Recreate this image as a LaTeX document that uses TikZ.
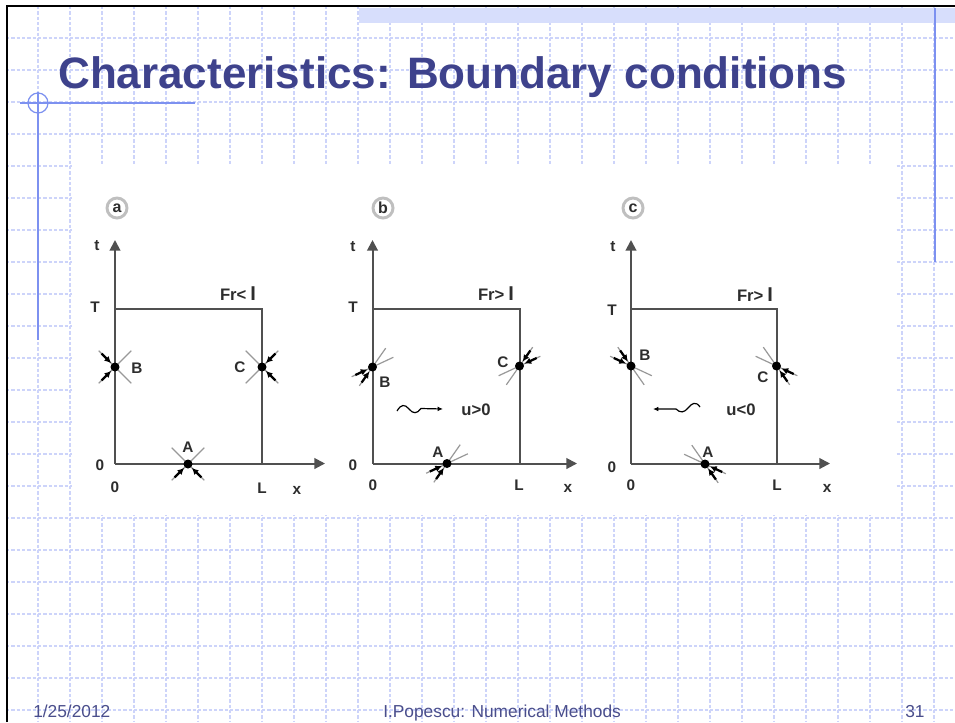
\documentclass[tikz,border=0pt]{standalone}
\usepackage{fontspec}
\setmainfont{Liberation Sans}
\usetikzlibrary{calc,arrows.meta}
\definecolor{gridc}{RGB}{205,212,250}
\definecolor{bluel}{RGB}{125,145,240}
\definecolor{titlec}{RGB}{62,66,140}
\definecolor{footc}{RGB}{74,78,140}
\definecolor{axc}{RGB}{80,80,80}
\definecolor{bandc}{RGB}{215,222,252}
\definecolor{txc}{RGB}{45,45,45}
\tikzset{
 gridln/.style={gridc, line width=0.9pt, dash pattern=on 2.5pt off 1.5pt},
 blueln/.style={bluel, line width=0.9pt},
 axis/.style={axc, line width=1.5pt},
 axarrow/.style={axis, -{Triangle[length=8pt,width=8pt]}},
 charln/.style={gray!80, line width=0.9pt},
 charar/.style={black, line width=1.7pt, -{Latex[length=5pt,width=5pt]}},
 wig/.style={black, line width=0.9pt, -{Latex[length=4pt,width=3.5pt]}},
 lbl/.style={text=txc, font=\fontsize{11.5pt}{13pt}\selectfont\bfseries, inner sep=0pt},
 frl/.style={text=txc, font=\fontsize{12.5pt}{14pt}\selectfont\bfseries, inner sep=0pt},
 circl/.style={circle, draw=gray!50, line width=2.2pt, fill=white, minimum size=15pt, inner sep=0pt, text=txc, font=\fontsize{12pt}{12pt}\selectfont\bfseries},
 titlef/.style={text=titlec, font=\fontsize{33pt}{36pt}\selectfont\bfseries, inner sep=0pt, anchor=base west},
 footf/.style={text=footc, font=\fontsize{13pt}{15pt}\selectfont, inner sep=0pt, anchor=base west}
}
\newcommand\charmark[4]{%
  \draw[charln] ($(#1)+(-#2:23)$) -- ($(#1)+(180-#2:23)$);
  \draw[charln] ($(#1)+(-#3:23)$) -- ($(#1)+(180-#3:23)$);
  \foreach \aa in {#4}{\draw[charar] ($(#1)+(-\aa:19)$) -- ($(#1)+(-\aa:5.5)$);}
  \fill[black] (#1) circle (4.5);
}
\newcommand\barI{\hspace{3pt}{\fontsize{15pt}{15pt}\selectfont I}}
\begin{document}
\begin{tikzpicture}[x={(0.75pt,0)}, y={(0,-0.75pt)}]
\useasboundingbox (0,0) rectangle (955,722);
\fill[white] (0,0) rectangle (955,722);
% grid
\foreach \i in {0,...,28} \draw[gridln] (38+32*\i,6) -- (38+32*\i,722);
\foreach \j in {0,...,21} \draw[gridln] (6,38+32*\j) -- (955,38+32*\j);
% picture area
\fill[white] (72,165) rectangle (895,515);
% top band
\fill[bandc] (359,8) rectangle (955,23);
% border
\draw[black, line width=2pt] (7,722) -- (7,6) -- (955,6);
% blue decorations
\draw[blueln] (935,8) -- (935,262);
\draw[blueln] (38,92) -- (38,340);
\draw[blueln] (20,103) -- (195,103);
\draw[blueln] (38,103) circle (10);
% title
\node[titlef] (title) at (58,88) {Characteristics: Boundary conditions};
% footer
\node[footf] (date) at (33,717) {1/25/2012};
\node[footf] (auth) at (383,717) {I.Popescu: Numerical Methods};
\node[footf] (page) at (905,717) {31};

% ===== panel a =====
\coordinate (aO) at (115,463.5);
\coordinate (aTt) at (115,240);
\coordinate (aXt) at (325,463.5);
\coordinate (aTL) at (115,308.5);
\coordinate (aTR) at (262,308.5);
\coordinate (aL) at (262,463.5);
\draw[axarrow] (aO) -- (aTt);
\draw[axarrow] (aO) -- (aXt);
\draw[axis] (aTL) -- (aTR) -- (aL);
\node[circl] (ca) at (117,208) {a};
\node[lbl] (at) at (97,246) {t};
\node[lbl] (aT) at (95,307) {T};
\node[lbl] (a0l) at (100,465) {0};
\node[lbl] (a0b) at (115,487) {0};
\node[lbl] (aLl) at (262,488) {L};
\node[lbl] (axl) at (297,490) {x};
\node[frl] (afr) at (238,294) {Fr<\barI};
\coordinate (aB) at (115,367);
\coordinate (aC) at (262,367);
\coordinate (aA) at (188,464);
\charmark{aB}{45}{135}{135,225}
\charmark{aC}{45}{135}{45,315}
\charmark{aA}{45}{135}{225,315}
\node[lbl] (aBl) at (137,368) {B};
\node[lbl] (aCl) at (240,367) {C};
\node[lbl] (aAl) at (188,447) {A};

% ===== panel b =====
\coordinate (bO) at (372.5,463.5);
\coordinate (bTt) at (372.5,240);
\coordinate (bXt) at (577,463.5);
\coordinate (bTL) at (372.5,308.5);
\coordinate (bTR) at (519.5,308.5);
\coordinate (bL) at (519.5,463.5);
\draw[axarrow] (bO) -- (bTt);
\draw[axarrow] (bO) -- (bXt);
\draw[axis] (bTL) -- (bTR) -- (bL);
\node[circl] (cb) at (383,208) {b};
\node[lbl] (bt) at (353,247) {t};
\node[lbl] (bT) at (353,307) {T};
\node[lbl] (b0l) at (353,465) {0};
\node[lbl] (b0b) at (373,485) {0};
\node[lbl] (bLl) at (519,485) {L};
\node[lbl] (bxl) at (568,488) {x};
\node[frl] (bfr) at (496,294) {Fr>\barI};
\coordinate (bB) at (372.5,367);
\coordinate (bC) at (519.5,366);
\coordinate (bA) at (447,463.5);
\charmark{bB}{25}{55}{205,235}
\charmark{bC}{25}{55}{25,55}
\charmark{bA}{25}{55}{205,235}
\node[lbl] (bBl) at (385,382) {B};
\node[lbl] (bCl) at (503,362) {C};
\node[lbl] (bAl) at (438,452) {A};
\coordinate (bw1) at (397,411);
\coordinate (bw2) at (443,409);
\draw[wig] (bw1) .. controls (401,404) and (405,404) .. (409,409) .. controls (413,414) and (417,414) .. (421,408.5) -- (bw2);
\node[frl] (bu) at (476,410) {u>0};

% ===== panel c =====
\coordinate (cO) at (631,463.5);
\coordinate (cTt) at (631,240);
\coordinate (cXt) at (830,463.5);
\coordinate (cTL) at (631,308.5);
\coordinate (cTR) at (776.5,308.5);
\coordinate (cL) at (776.5,463.5);
\draw[axarrow] (cO) -- (cTt);
\draw[axarrow] (cO) -- (cXt);
\draw[axis] (cTL) -- (cTR) -- (cL);
\node[circl] (cc) at (633,208) {c};
\node[lbl] (ct) at (613,247) {t};
\node[lbl] (cT) at (612,310) {T};
\node[lbl] (c0l) at (612,467) {0};
\node[lbl] (c0b) at (631,485) {0};
\node[lbl] (cLl) at (777,485) {L};
\node[lbl] (cxl) at (827,488) {x};
\node[frl] (cfr) at (755,295) {Fr>\barI};
\coordinate (cB) at (631,366);
\coordinate (cC) at (776.5,366);
\coordinate (cA) at (705,464);
\charmark{cB}{125}{155}{125,155}
\charmark{cC}{125}{155}{305,335}
\charmark{cA}{125}{155}{305,335}
\node[lbl] (cBl) at (645,355) {B};
\node[lbl] (cCl) at (763,377) {C};
\node[lbl] (cAl) at (708,452) {A};
\coordinate (cw1) at (700,407);
\coordinate (cw2) at (653,409);
\draw[wig] (cw1) .. controls (696,401) and (692,403) .. (688,408) .. controls (684,413) and (680,413) .. (676,409) -- (cw2);
\node[frl] (cu) at (741,410) {u<0};
\end{tikzpicture}
\end{document}
